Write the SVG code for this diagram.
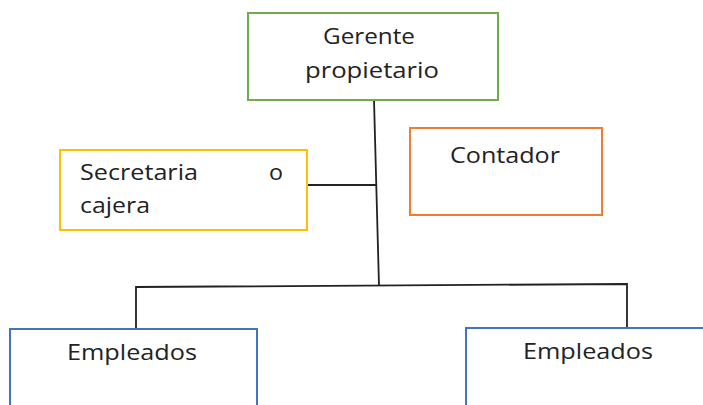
<svg xmlns="http://www.w3.org/2000/svg" width="703" height="405" viewBox="0 0 703 405">
<style>
.box{fill:#fff;stroke-width:2}
.t{font-family:"Open Sans","Liberation Sans",sans-serif;font-size:21px;fill:#222}
.c{fill:none;stroke:#222;stroke-width:1.8}
</style>
<rect width="703" height="405" fill="#fff"/>
<g id="connectors">
<path class="c" d="M374,100 L379,286"/>
<path class="c" d="M307,185 L376,185"/>
<path class="c" d="M136,329 L136,287 L627,284 L627,328"/>
</g>
<g id="gerente">
<rect class="box" x="248" y="13" width="250" height="87" stroke="#70AD47"/>
<text class="t" x="323" y="44" textLength="92" lengthAdjust="spacingAndGlyphs">Gerente</text>
<text class="t" x="305" y="78" textLength="134" lengthAdjust="spacingAndGlyphs">propietario</text>
</g>
<g id="secretaria">
<rect class="box" x="60" y="150" width="247" height="80" stroke="#FFC000"/>
<text class="t" x="80" y="180" textLength="118" lengthAdjust="spacingAndGlyphs">Secretaria</text>
<text class="t" x="269" y="180" textLength="14" lengthAdjust="spacingAndGlyphs">o</text>
<text class="t" x="80" y="213" textLength="70" lengthAdjust="spacingAndGlyphs">cajera</text>
</g>
<g id="contador">
<rect class="box" x="410" y="128" width="192" height="87" stroke="#ED7D31"/>
<text class="t" x="450" y="163" textLength="110" lengthAdjust="spacingAndGlyphs">Contador</text>
</g>
<g id="empleados1">
<rect class="box" x="10" y="329" width="247" height="90" stroke="#4472C4"/>
<text class="t" x="67" y="360" textLength="130" lengthAdjust="spacingAndGlyphs">Empleados</text>
</g>
<g id="empleados2">
<rect class="box" x="466" y="328" width="250" height="90" stroke="#4472C4"/>
<text class="t" x="523" y="359" textLength="130" lengthAdjust="spacingAndGlyphs">Empleados</text>
</g>
</svg>
